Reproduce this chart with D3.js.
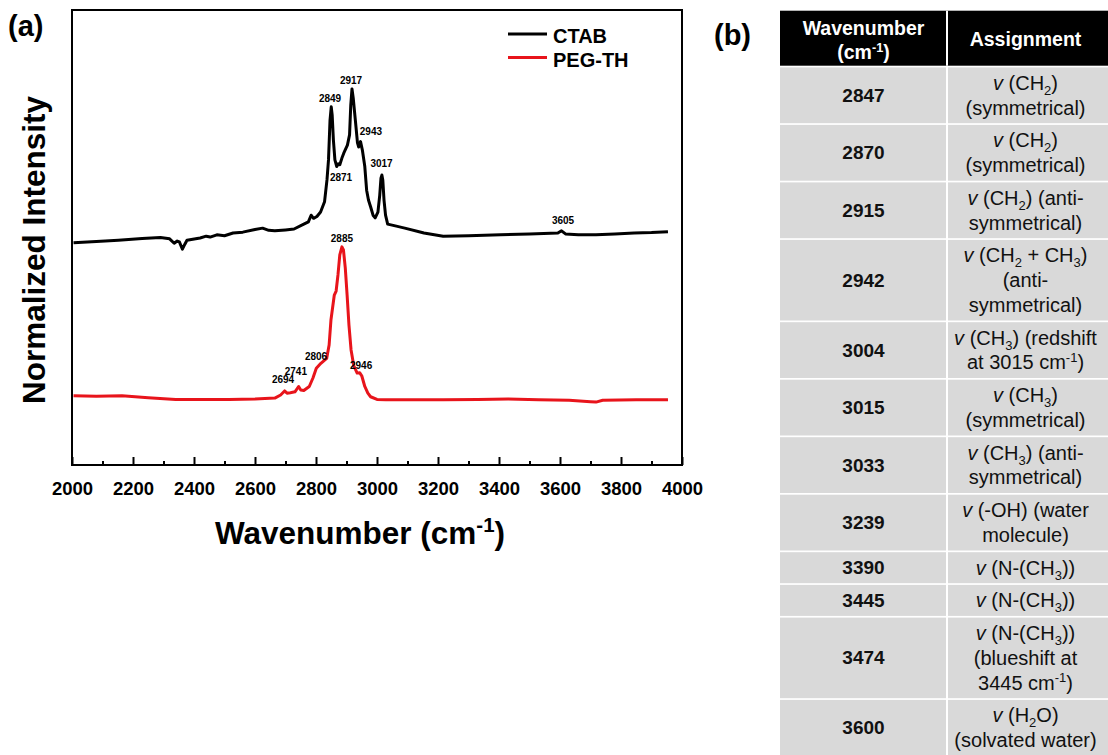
<!DOCTYPE html>
<html>
<head>
<meta charset="utf-8">
<script src="https://cdn.jsdelivr.net/npm/d3@7"></script>
<style>
  body { margin: 0; background: #fff; }
  svg { display: block; font-family: Arial, 'Liberation Sans', sans-serif; }
</style>
</head>
<body>
<svg id="chart" width="1108" height="755"></svg>
<script>
// CTAB spectrum (wavenumber, normalized intensity)
const ctabX = [2005, 2080, 2152, 2230, 2290, 2320, 2335, 2345, 2352, 2362, 2370, 2377, 2420, 2440,
  2453, 2475, 2500, 2528, 2560, 2600, 2625, 2645, 2665, 2700, 2728, 2760, 2775, 2784, 2792, 2803,
  2815, 2828, 2836, 2841, 2846, 2850, 2853, 2857, 2862, 2868, 2873, 2878, 2885, 2891, 2903, 2910,
  2914, 2918, 2922, 2929, 2936, 2940, 2946, 2952, 2960, 2966, 2972, 2979, 2987, 2994, 3003, 3009,
  3013, 3016, 3019, 3023, 3028, 3035, 3060, 3091, 3154, 3217, 3300, 3405, 3500, 3593, 3605, 3618,
  3660, 3718, 3780, 3843, 3900, 3954];
const ctabY = [49.8, 50.1, 50.4, 50.8, 51.0, 50.7, 49.7, 50.2, 50.0, 48.4, 49.5, 50.4, 50.9, 51.3,
  51.1, 51.6, 51.4, 52.0, 52.2, 52.8, 53.1, 52.6, 52.5, 52.7, 52.9, 54.0, 54.5, 56.0, 55.3, 55.7,
  56.7, 59.0, 63.9, 68.4, 77.3, 80.3, 78.5, 72.9, 68.4, 66.9, 67.5, 67.3, 68.8, 69.9, 71.7, 74.0,
  80.7, 84.3, 82.3, 77.3, 72.2, 71.3, 72.5, 70.6, 66.9, 61.6, 59.4, 57.9, 56.0, 55.4, 56.7, 60.5,
  64.3, 65.0, 63.9, 59.4, 56.0, 54.0, 53.6, 53.1, 52.0, 51.3, 51.4, 51.6, 51.8, 52.0, 52.5, 51.8,
  51.6, 51.6, 51.8, 52.0, 52.1, 52.3];

// PEG-TH spectrum
const pegX = [2005, 2080, 2164, 2250, 2340, 2430, 2515, 2600, 2665, 2684, 2697, 2705, 2716, 2731,
  2743, 2750, 2760, 2778, 2790, 2801, 2816, 2835, 2843, 2849, 2860, 2866, 2872, 2878, 2885, 2890,
  2896, 2902, 2908, 2915, 2924, 2935, 2943, 2950, 2960, 2970, 2979, 3000, 3029, 3217, 3330, 3430,
  3530, 3630, 3700, 3718, 3740, 3850, 3954];
const pegY = [15.5, 15.4, 15.5, 15.1, 14.7, 14.7, 14.7, 14.8, 15.0, 15.7, 16.6, 16.1, 16.2, 16.4,
  17.6, 16.8, 16.7, 17.6, 19.5, 21.7, 22.8, 23.9, 26.9, 32.5, 38.1, 39.0, 42.6, 47.1, 48.9, 48.2,
  44.2, 38.1, 31.4, 25.8, 22.2, 20.6, 20.7, 20.0, 17.6, 16.1, 15.3, 14.7, 14.6, 14.6, 14.7, 14.8,
  14.6, 14.5, 14.2, 14.1, 14.5, 14.6, 14.6];

// peak labels, anchored in data space (label centre, baseline)
const peakLabels = ['2849', '2917', '2943', '2871', '3017', '3605', '2885', '2806', '2741', '2694', '2946'];
const peakLabelX = [2846, 2915, 2980, 2882, 3015, 3610, 2885, 2800, 2734, 2692, 2948];
const peakLabelY = [81.4, 85.5, 73.9, 63.7, 66.8, 54.0, 50.1, 23.5, 20.2, 18.3, 21.5];

const seriesNames = ['CTAB', 'PEG-TH'];
const seriesColors = ['#000000', '#e8141b'];

const majorTicks = d3.range(2000, 4001, 200);
const minorTicks = d3.range(2100, 4000, 200);

// table (b)
const tableWavenumbers = ['2847', '2870', '2915', '2942', '3004', '3015', '3033', '3239', '3390', '3445', '3474', '3600'];
const tableAssignments = [
  ['*v* (CH_{2})', '(symmetrical)'],
  ['*v* (CH_{2})', '(symmetrical)'],
  ['*v* (CH_{2}) (anti-', 'symmetrical)'],
  ['*v* (CH_{2} + CH_{3})', '(anti-', 'symmetrical)'],
  ['*v* (CH_{3}) (redshift', 'at 3015 cm^{-1})'],
  ['*v* (CH_{3})', '(symmetrical)'],
  ['*v* (CH_{3}) (anti-', 'symmetrical)'],
  ['*v* (-OH) (water', 'molecule)'],
  ['*v* (N-(CH_{3}))'],
  ['*v* (N-(CH_{3}))'],
  ['*v* (N-(CH_{3}))', '(blueshift at', '3445 cm^{-1})'],
  ['*v* (H_{2}O)', '(solvated water)'],
];

const svg = d3.select('#chart');

const frame = { left: 72, right: 682, top: 10, bottom: 465 };

const x = d3.scaleLinear().domain([2000, 4000]).range([frame.left, frame.right]);
const y = d3.scaleLinear().domain([0, 102]).range([frame.bottom, frame.top]);

// writes "*it*", "_{sub}" and "^{sup}" markup into tspans
function richText(textSel, str, size) {
  const parts = str.split(/(\*[^*]+\*|_\{[^}]+\}|\^\{[^}]+\})/).filter((p) => p.length);
  let shift = 0;
  parts.forEach((p) => {
    let txt = p, dy = -shift, fs = size, style = 'normal';
    if (p[0] === '*') { txt = p.slice(1, -1); style = 'italic'; }
    else if (p[0] === '_') { txt = p.slice(2, -1); fs = size * 0.65; dy += size * 0.25; }
    else if (p[0] === '^') { txt = p.slice(2, -1); fs = size * 0.65; dy += -size * 0.38; }
    shift += dy;
    textSel.append('tspan')
      .attr('dy', dy)
      .attr('font-size', fs)
      .attr('font-style', style)
      .text(txt);
  });
}

// ---- panel (a) ----
const line = d3.line()
  .x((d) => x(d[0]))
  .y((d) => y(d[1]));

const series = [d3.zip(ctabX, ctabY), d3.zip(pegX, pegY)];

svg.append('g')
  .selectAll('path')
  .data(series)
  .join('path')
  .attr('d', line)
  .attr('fill', 'none')
  .attr('stroke', (d, i) => seriesColors[i])
  .attr('stroke-width', 3)
  .attr('stroke-linejoin', 'round');

svg.append('g')
  .selectAll('text')
  .data(peakLabels)
  .join('text')
  .attr('x', (d, i) => x(peakLabelX[i]))
  .attr('y', (d, i) => y(peakLabelY[i]))
  .attr('text-anchor', 'middle')
  .attr('font-size', 10)
  .attr('font-weight', 'bold')
  .text((d) => d);

// x axis, ticks pointing inward
const xAxis = svg.append('g')
  .attr('transform', `translate(0,${frame.bottom})`)
  .call(d3.axisBottom(x).tickValues(majorTicks).tickSizeInner(-8).tickSizeOuter(0)
    .tickPadding(17).tickFormat(d3.format('d')));
xAxis.select('.domain').remove();
xAxis.selectAll('line').attr('stroke', '#000').attr('stroke-width', 2);
xAxis.selectAll('text')
  .attr('font-family', 'Arial, Liberation Sans, sans-serif')
  .attr('font-size', 18.5)
  .attr('font-weight', 'bold')
  .attr('fill', '#000');

const xMinor = svg.append('g')
  .attr('transform', `translate(0,${frame.bottom})`)
  .call(d3.axisBottom(x).tickValues(minorTicks).tickSizeInner(-4).tickSizeOuter(0).tickFormat(''));
xMinor.select('.domain').remove();
xMinor.selectAll('line').attr('stroke', '#000').attr('stroke-width', 2);

svg.append('rect')
  .attr('x', frame.left)
  .attr('y', frame.top)
  .attr('width', frame.right - frame.left)
  .attr('height', frame.bottom - frame.top)
  .attr('fill', 'none')
  .attr('stroke', '#000')
  .attr('stroke-width', 2);

const xTitle = svg.append('text')
  .attr('x', 360)
  .attr('y', 544)
  .attr('text-anchor', 'middle')
  .attr('font-weight', 'bold');
richText(xTitle, 'Wavenumber (cm^{-1})', 31.5);

svg.append('text')
  .attr('transform', 'translate(45,250) rotate(-90)')
  .attr('text-anchor', 'middle')
  .attr('font-size', 31.5)
  .attr('font-weight', 'bold')
  .text('Normalized Intensity');

// legend
const legend = svg.append('g')
  .selectAll('g')
  .data(seriesNames)
  .join('g')
  .attr('transform', (d, i) => `translate(508,${34 + i * 23.5})`);
legend.append('line')
  .attr('x2', 39)
  .attr('stroke', (d, i) => seriesColors[i])
  .attr('stroke-width', 3);
legend.append('text')
  .attr('x', 45)
  .attr('y', 9)
  .attr('font-size', 20)
  .attr('font-weight', 'bold')
  .text((d) => d);

svg.append('text')
  .attr('x', 8)
  .attr('y', 36)
  .attr('font-size', 29)
  .attr('font-weight', 'bold')
  .text('(a)');

// ---- panel (b) ----
svg.append('text')
  .attr('x', 714)
  .attr('y', 45)
  .attr('font-size', 29)
  .attr('font-weight', 'bold')
  .text('(b)');

const table = { left: 780, mid: 947, right: 1112, top: 10.7, headH: 55, gap: 1.7, lineH: 24.8, pad: 6.2 };

const head = svg.append('g');
head.append('rect')
  .attr('x', table.left)
  .attr('y', table.top)
  .attr('width', table.right - table.left)
  .attr('height', table.headH)
  .attr('fill', '#000');
head.append('line')
  .attr('x1', table.mid).attr('x2', table.mid)
  .attr('y1', table.top).attr('y2', table.top + table.headH)
  .attr('stroke', '#fff')
  .attr('stroke-width', 2);
head.append('text')
  .attr('x', (table.left + table.mid) / 2)
  .attr('y', 35)
  .attr('text-anchor', 'middle')
  .attr('font-size', 19.5)
  .attr('font-weight', 'bold')
  .attr('fill', '#fff')
  .text('Wavenumber');
const cmHead = head.append('text')
  .attr('x', (table.left + table.mid) / 2)
  .attr('y', 59)
  .attr('text-anchor', 'middle')
  .attr('font-weight', 'bold')
  .attr('fill', '#fff');
richText(cmHead, '(cm^{-1})', 19.5);
head.append('text')
  .attr('x', (table.mid + table.right) / 2 - 4)
  .attr('y', 46)
  .attr('text-anchor', 'middle')
  .attr('font-size', 19.5)
  .attr('font-weight', 'bold')
  .attr('fill', '#fff')
  .text('Assignment');

// row positions from line counts
let cursor = table.top + table.headH + table.gap;
const rows = tableWavenumbers.map((wn, i) => {
  const h = tableAssignments[i].length * table.lineH + table.pad;
  const r = { wn, lines: tableAssignments[i], y0: cursor, h };
  cursor += h + table.gap;
  return r;
});

const row = svg.append('g')
  .selectAll('g')
  .data(rows)
  .join('g')
  .attr('transform', (d) => `translate(0,${d.y0})`);

row.append('rect')
  .attr('x', table.left)
  .attr('width', table.mid - 1 - table.left)
  .attr('height', (d) => d.h)
  .attr('fill', '#d9d9d9');
row.append('rect')
  .attr('x', table.mid + 1)
  .attr('width', table.right - table.mid - 1)
  .attr('height', (d) => d.h)
  .attr('fill', '#d9d9d9');

row.append('text')
  .attr('x', (table.left + table.mid) / 2)
  .attr('y', (d) => d.h / 2 + 6.5)
  .attr('text-anchor', 'middle')
  .attr('font-size', 19)
  .attr('font-weight', 'bold')
  .attr('fill', '#111')
  .text((d) => d.wn);

row.each(function (d) {
  const g = d3.select(this);
  const n = d.lines.length;
  d.lines.forEach((ln, k) => {
    const t = g.append('text')
      .attr('x', (table.mid + table.right) / 2 - 4)
      .attr('y', d.h / 2 + (k - (n - 1) / 2) * table.lineH + 7)
      .attr('text-anchor', 'middle')
      .attr('fill', '#111');
    richText(t, ln, 20);
  });
});
</script>
</body>
</html>
